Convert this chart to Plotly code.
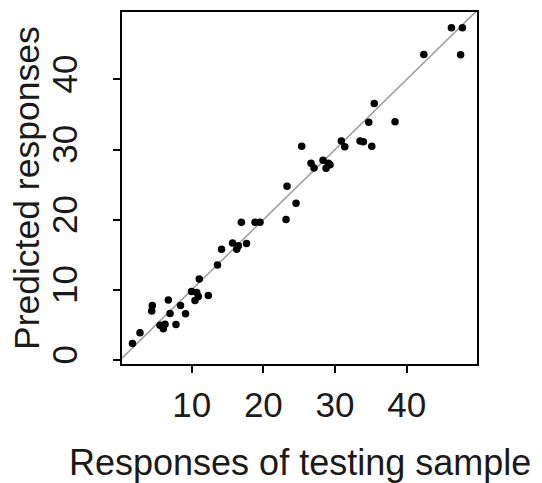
import plotly.graph_objects as go

observed = [1.74, 2.79, 4.51, 4.42, 6.74, 5.58, 6.04, 6.28, 6.98, 8.44,
            9.14, 7.81, 9.98, 10.70, 10.46, 10.93, 12.32, 11.06, 13.60, 14.16,
            15.70, 16.28, 16.51, 17.65, 16.93, 18.84, 19.53, 23.16, 23.30, 24.56,
            25.35, 26.65, 27.07, 28.32, 29.06, 28.74, 29.30, 30.88, 31.35, 33.49,
            33.95, 35.12, 34.70, 35.47, 38.37, 42.38, 46.23, 47.76, 47.51]
predicted = [2.36, 3.89, 7.78, 6.97, 8.56, 4.95, 4.46, 5.09, 6.61, 7.78,
             6.58, 5.05, 9.76, 9.62, 8.49, 9.05, 9.19, 11.56, 13.54, 15.80,
             16.69, 15.80, 16.27, 16.62, 19.62, 19.62, 19.62, 20.04, 24.75, 22.35,
             30.48, 28.05, 27.37, 28.47, 28.05, 27.34, 27.82, 31.22, 30.41, 31.22,
             31.12, 30.48, 33.90, 36.56, 33.95, 43.56, 47.34, 47.34, 43.49]

x_ticks = [10, 20, 30, 40]
y_ticks = [0, 10, 20, 30, 40]
x_range = [0.28, 49.8]
y_range = [-0.57, 49.6]
identity = [-5, 60]

FONT = "Liberation Sans, Arial, sans-serif"

fig = go.Figure()
fig.add_trace(go.Scatter(x=identity, y=identity, mode="lines",
                         line=dict(color="#a0a0a0", width=1.6),
                         hoverinfo="skip", showlegend=False))
fig.add_trace(go.Scatter(x=observed, y=predicted, mode="markers",
                         marker=dict(color="black", size=7.5),
                         showlegend=False))

axis_common = dict(showgrid=False, zeroline=False, showline=True, mirror=True,
                   linecolor="black", linewidth=2, ticks="outside", ticklen=7,
                   tickwidth=2, tickcolor="black",
                   tickfont=dict(family=FONT, size=35, color="#1a1a1a"))

fig.update_xaxes(range=x_range, tickvals=x_ticks, ticklabelstandoff=2, **axis_common)
fig.update_yaxes(range=y_range, tickvals=y_ticks, tickangle=-90,
                 ticklabelstandoff=22, **axis_common)

# page body has an 8px margin, so the figure is shrunk/shifted to compensate
fig.update_layout(
    width=534, height=475,
    margin=dict(l=114, r=65, t=2, b=119),
    plot_bgcolor="white", paper_bgcolor="white",
    annotations=[
        dict(text="Responses of testing sample", xref="paper", yref="paper",
             x=0.5, y=0, xanchor="center", yanchor="middle", yshift=-98,
             showarrow=False, font=dict(family=FONT, size=36, color="#1a1a1a")),
        dict(text="Predicted responses", xref="paper", yref="paper",
             x=0, y=0.5, xanchor="center", yanchor="middle", xshift=-95,
             textangle=-90, showarrow=False,
             font=dict(family=FONT, size=35.5, color="#1a1a1a")),
    ],
)

fig.write_html("out.html")
